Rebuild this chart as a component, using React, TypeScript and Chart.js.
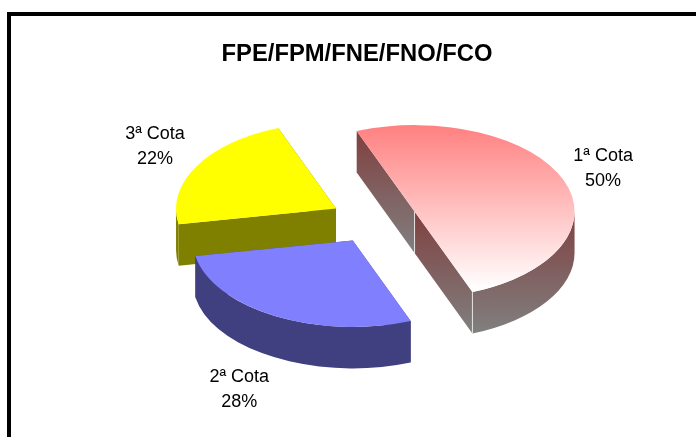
import React, { useEffect, useRef } from "react";
import { Chart, registerables } from "chart.js";

Chart.register(...registerables);

const titleText = "FPE/FPM/FNE/FNO/FCO";
const categories = ["1ª Cota", "2ª Cota", "3ª Cota"];
const shares = [50, 28, 22];
const faceColors = ["#ff8080", "#8080ff", "#ffff00"];
const wallTopColors = ["#804040", "#404080", "#808000"];
const wallBottomColors = ["#808080", "#404080", "#808000"];

const FONT = '"Liberation Sans", Arial, sans-serif';
const RADIUS = 160;
const TILT = 0.54;
const DEPTH = 41.5;
const EXPLODE = 43.5;
const CENTER = { x: 374, y: 220 };
// label centres relative to each exploded slice's centre
const labelShift = [
  { dx: 188.5, dy: -42.5 },
  { dx: -113.5, dy: 149.5 },
  { dx: -181, dy: -62 },
];
const drawOrder = [0, 2, 1];

const pie3d = {
  id: "pie3d",
  beforeDatasetDraw(chart: any) {
    const ctx: CanvasRenderingContext2D = chart.ctx;
    const meta = chart.getDatasetMeta(0);
    for (const i of drawOrder) {
      const arc = meta.data[i];
      const { x, y, startAngle: s, endAngle: e } = arc;
      const mid = (s + e) / 2;
      const ex = Math.cos(mid) * EXPLODE;
      const ey = Math.sin(mid) * EXPLODE;
      const px = CENTER.x + ex;
      const py = CENTER.y + ey * TILT;
      const pt = (a: number) => [px + Math.cos(a) * RADIUS, py + Math.sin(a) * RADIUS * TILT];

      const paint = (y0: number, y1: number) => {
        const g = ctx.createLinearGradient(0, y0, 0, y1);
        g.addColorStop(0, wallTopColors[i]);
        g.addColorStop(1, wallBottomColors[i]);
        return g;
      };

      // radial cut faces
      for (const a of [s, e]) {
        const [qx, qy] = pt(a);
        ctx.beginPath();
        ctx.moveTo(px, py);
        ctx.lineTo(qx, qy);
        ctx.lineTo(qx, qy + DEPTH);
        ctx.lineTo(px, py + DEPTH);
        ctx.closePath();
        ctx.fillStyle = paint(Math.min(py, qy), Math.max(py, qy) + DEPTH);
        ctx.fill();
      }

      // outer curved wall (front half only)
      for (const base of [0, Math.PI * 2, -Math.PI * 2]) {
        const a0 = Math.max(s, base);
        const a1 = Math.min(e, base + Math.PI);
        if (a1 <= a0) continue;
        let minY = Infinity;
        let maxY = -Infinity;
        for (let t = 0; t <= 40; t++) {
          const yy = pt(a0 + ((a1 - a0) * t) / 40)[1];
          minY = Math.min(minY, yy);
          maxY = Math.max(maxY, yy);
        }
        ctx.beginPath();
        ctx.ellipse(px, py, RADIUS, RADIUS * TILT, 0, a0, a1);
        ctx.ellipse(px, py + DEPTH, RADIUS, RADIUS * TILT, 0, a1, a0, true);
        ctx.closePath();
        ctx.fillStyle = paint(minY, maxY + DEPTH);
        ctx.fill();
      }

      // light seams on the shaded slice
      if (wallTopColors[i] !== wallBottomColors[i]) {
        ctx.strokeStyle = "rgba(255,255,255,0.75)";
        ctx.lineWidth = 1;
        const [qx, qy] = pt(e);
        ctx.beginPath();
        ctx.moveTo(px, py);
        ctx.lineTo(px, py + DEPTH);
        ctx.moveTo(qx, qy);
        ctx.lineTo(qx, qy + DEPTH);
        ctx.stroke();
      }

      // top face: the library's own arc element
      ctx.save();
      ctx.translate(px - x * 1, py - y * TILT);
      ctx.scale(1, TILT);
      arc.draw(ctx);
      ctx.restore();
    }

    ctx.save();
    ctx.fillStyle = "#000";
    ctx.font = `18px ${FONT}`;
    ctx.textAlign = "center";
    ctx.textBaseline = "middle";
    for (let i = 0; i < categories.length; i++) {
      const arc = meta.data[i];
      const mid = (arc.startAngle + arc.endAngle) / 2;
      const cx = CENTER.x + Math.cos(mid) * EXPLODE + labelShift[i].dx;
      const cy = CENTER.y + Math.sin(mid) * EXPLODE * TILT + labelShift[i].dy;
      ctx.fillText(categories[i], cx, cy - 12.5);
      ctx.fillText(`${shares[i]}%`, cx, cy + 12.5);
    }
    ctx.restore();
    return false;
  },
};

export default function App() {
  const ref = useRef<HTMLCanvasElement>(null);
  useEffect(() => {
    const chart = new Chart(ref.current!, {
      type: "pie",
      plugins: [pie3d],
      data: {
        labels: categories,
        datasets: [
          {
            data: shares,
            borderWidth: 0,
            backgroundColor: (c: any) => {
              const area = c.chart.chartArea;
              if (!area || c.dataIndex !== 0) return faceColors[c.dataIndex];
              const cy = (area.top + area.bottom) / 2;
              const g = c.chart.ctx.createLinearGradient(0, cy - RADIUS, 0, cy + RADIUS);
              g.addColorStop(0, "#ff8080");
              g.addColorStop(0.95, "#ffffff");
              g.addColorStop(1, "#ffffff");
              return g;
            },
          },
        ],
      },
      options: {
        responsive: false,
        animation: false,
        devicePixelRatio: 1,
        rotation: -21.2,
        radius: RADIUS,
        layout: { padding: { left: 18 } },
        plugins: {
          legend: { display: false },
          tooltip: { enabled: false },
          title: {
            display: true,
            text: titleText,
            color: "#000",
            font: { family: FONT, size: 23.8, weight: "bold" },
            padding: { top: 40, bottom: 10 },
          },
        },
      } as any,
    });
    return () => chart.destroy();
  }, []);
  return (
    <div style={{ position: "fixed", left: 0, top: 0, width: 696, height: 437, background: "#fff", overflow: "hidden" }}>
      <canvas ref={ref} width={696} height={437} style={{ display: "block" }} />
      <div
        style={{
          position: "absolute",
          left: 7,
          top: 12,
          right: 0,
          bottom: 0,
          borderLeft: "4px solid #000",
          borderTop: "4px solid #000",
          boxSizing: "border-box",
        }}
      />
    </div>
  );
}
